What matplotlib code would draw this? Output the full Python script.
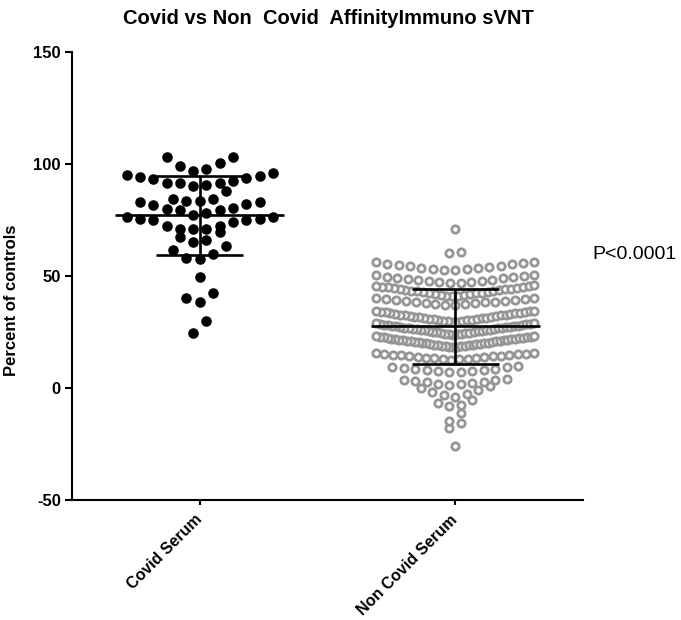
import matplotlib
matplotlib.use('Agg')
import matplotlib.pyplot as plt
import numpy as np

plt.rcParams['font.family'] = ['Liberation Sans', 'DejaVu Sans']

# ---- data ----
categories = ['Covid Serum', 'Non Covid Serum']

covid_serum = [
    103.0, 100.4, 97.9, 96.8, 99.0, 103.0,
    94.9, 94.1, 93.1, 91.6, 91.4, 90.1, 90.7, 91.4, 92.3, 93.8, 94.6, 96.1,
    87.9, 84.5, 83.4, 84.5, 83.4,
    83.0, 81.9, 80.0, 83.0, 80.5, 82.3, 79.3, 78.3, 79.6, 77.1,
    76.3, 75.6, 74.8, 74.1, 74.8, 75.3, 76.3, 72.2, 71.1, 71.1, 71.1, 72.2,
    69.6, 67.4, 65.2, 66.2,
    63.3, 61.5, 58.2, 57.8, 59.7,
    49.6, 40.4, 38.2, 42.6, 29.8, 24.7,
]

non_covid_serum = [
    71.0,
    60.3, 60.8,
    52.6, 52.8, 53.0, 53.3, 53.5, 53.8, 54.0, 54.3, 54.6, 54.9, 55.2, 55.5,
    55.8, 56.1, 56.4,
    46.8, 47.0, 47.2, 47.4, 47.7, 47.9, 48.1, 48.4, 48.6, 48.9, 49.1, 49.4,
    49.7, 50.0, 50.3, 50.6,
    41.0, 41.2, 41.3, 41.5, 41.7, 41.9, 42.1, 42.2, 42.4, 42.6, 42.8, 43.0,
    43.1, 43.3, 43.5, 43.7, 43.9, 44.0, 44.2, 44.4, 44.6, 44.8, 44.9, 45.1,
    45.3, 45.5, 45.7, 45.9,
    37.0, 37.2, 37.4, 37.6, 37.8, 38.0, 38.2, 38.4, 38.6, 38.8, 39.0, 39.2,
    39.4, 39.6, 39.8, 40.0, 40.3,
    29.4, 29.6, 29.7, 29.9, 30.0, 30.2, 30.3, 30.5, 30.6, 30.8, 31.0, 31.1,
    31.3, 31.4, 31.6, 31.7, 31.9, 32.1, 32.2, 32.4, 32.5, 32.7, 32.8, 33.0,
    33.2, 33.3, 33.5, 33.6, 33.8, 33.9, 34.1, 34.3, 34.4, 34.6,
    23.8, 23.9, 24.1, 24.2, 24.3, 24.5, 24.6, 24.7, 24.9, 25.0, 25.1, 25.3,
    25.4, 25.5, 25.7, 25.8, 25.9, 26.1, 26.2, 26.3, 26.5, 26.6, 26.7, 26.9,
    27.0, 27.1, 27.3, 27.4, 27.5, 27.7, 27.8, 27.9, 28.1, 28.2, 28.3, 28.5,
    28.6, 28.7, 28.9, 29.0,
    18.2, 18.3, 18.4, 18.6, 18.7, 18.8, 18.9, 19.1, 19.2, 19.3, 19.4, 19.5,
    19.7, 19.8, 19.9, 20.0, 20.2, 20.3, 20.4, 20.5, 20.6, 20.8, 20.9, 21.0,
    21.1, 21.3, 21.4, 21.5, 21.6, 21.7, 21.9, 22.0, 22.1, 22.2, 22.4, 22.5,
    22.6, 22.7, 22.8, 23.0, 23.1, 23.2,
    12.6, 12.8, 12.9, 13.1, 13.3, 13.4, 13.6, 13.8, 13.9, 14.1, 14.3, 14.4,
    14.6, 14.8, 14.9, 15.1, 15.3, 15.4, 15.6, 15.8,
    7.0, 7.2, 7.5, 7.7, 8.0, 8.2, 8.5, 8.7, 9.0, 9.2, 9.5, 9.8,
    1.4, 1.7, 2.0, 2.3, 2.6, 2.9, 3.2, 3.4, 3.7, 4.0,
    -4.0, -3.2, -2.5, -1.6, -0.8, 0.1, 1.0,
    -8.0, -7.6, -6.7, -5.3,
    -11.2, -14.7,
    -15.6, -17.8,
    -25.8,
]

y_ticks = [-50, 0, 50, 100, 150]
p_text = 'P<0.0001'


def swarm_x(values, centre, edge0, bin_w, step, half_w):
    # GraphPad-like layout: bin by value, spread each bin from the centre out
    vals = np.asarray(values, float)
    rows = np.floor((vals - edge0) / bin_w).astype(int)
    xs = np.empty_like(vals)
    order = []
    for r in np.unique(rows):
        idx = np.flatnonzero(rows == r)
        idx = idx[np.argsort(vals[idx], kind='stable')]
        n = len(idx)
        s = step if n < 2 else min(step, 2 * half_w / (n - 1))
        k = np.arange(n)
        if n % 2:
            slot = np.where(k % 2 == 1, -(k + 1) // 2, k // 2)
        else:
            slot = np.where(k % 2 == 0, -(k // 2) - 0.5, k // 2 + 0.5)
        xs[idx] = centre + slot * s
        order.extend(idx)
    return xs, np.array(order)


fig = plt.figure(figsize=(6.81, 6.2), dpi=100)
ax = fig.add_axes([0.1057, 0.1935, 0.7504, 0.7226])

cv = np.asarray(covid_serum)
nc = np.asarray(non_covid_serum)

xc, oc = swarm_x(cv, 1, 96.5, 6.6, 0.052, 0.30)
xn, on = swarm_x(nc, 2, 57.3, 5.6, 0.045, 0.31)

ax.plot(xc[oc], cv[oc], 'o', ls='none', color='black', ms=7.6, mew=0, zorder=2)
ax.plot(xn[on], nc[on], 'o', ls='none', mfc='white', mec='#969696',
        ms=5.3, mew=2.0, zorder=2)

# mean and SD bars
for x, v in [(1, cv), (2, nc)]:
    m = v.mean()
    sd = v.std(ddof=1)
    ax.hlines(m, x - 0.33, x + 0.33, color='black', lw=1.9, zorder=5)
    ax.hlines([m - sd, m + sd], x - 0.17, x + 0.17, color='black', lw=1.9, zorder=5)
    ax.vlines(x, m - sd, m + sd, color='black', lw=1.9, zorder=5)

ax.set_xlim(0.5, 2.5)
ax.set_ylim(-50, 150)
ax.set_yticks(y_ticks)
ax.set_yticklabels([str(t) for t in y_ticks], fontsize=12, fontweight='bold')
ax.set_xticks([1, 2])
ax.set_xticklabels(categories, fontsize=11.5, fontweight='bold', rotation=45,
                   ha='right', va='center', rotation_mode='anchor')

for s in ['top', 'right']:
    ax.spines[s].set_visible(False)
for s in ['left', 'bottom']:
    ax.spines[s].set_linewidth(1.5)
ax.tick_params(axis='y', direction='out', length=5, width=1.5, pad=3)
ax.tick_params(axis='x', direction='out', length=3.5, width=1.5, pad=9)

ax.set_ylabel('Percent of controls', fontsize=12, fontweight='bold')
ax.yaxis.set_label_coords(-0.103, 0.446)

ax.text(2.535, 59.5, p_text, fontsize=14, ha='left', va='center', clip_on=False)

fig.text(0.4817, 1 - 18 / 620, 'Covid vs Non  Covid  AffinityImmuno sVNT',
         fontsize=14.5, fontweight='bold', ha='center', va='center')

fig.savefig('out.png', dpi=100)
